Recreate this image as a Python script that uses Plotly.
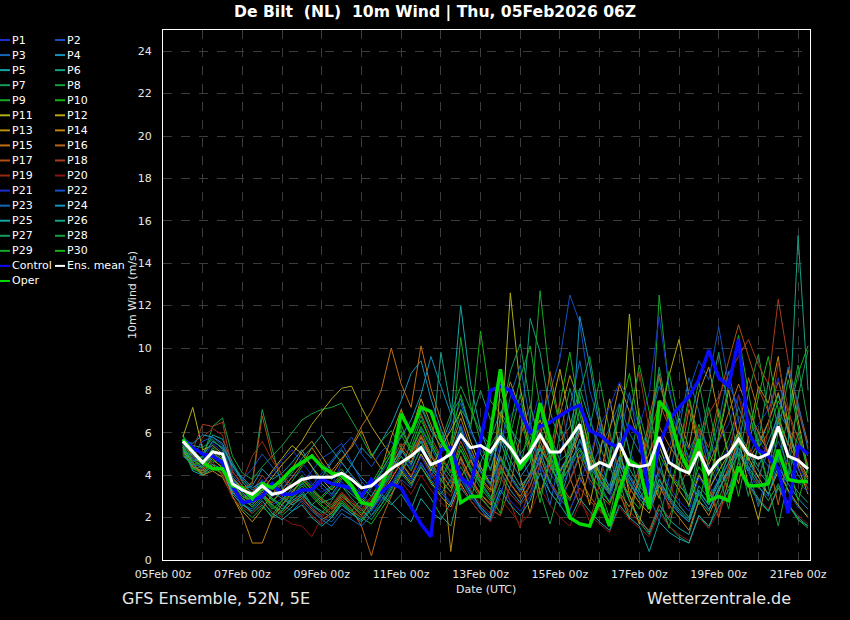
import pandas as pd
import plotly.graph_objects as go

# ---------------- data ----------------
times = pd.date_range("2026-02-05 12:00", periods=64, freq="6h")

p01 = [5.4,5.0,4.4,5.2,4.8,3.4,2.9,3.2, 3.8,3.0,3.4,3.9,4.2,3.6,3.2,3.5, 4.6,4.0,3.1,2.6,3.4,4.0,5.2,4.4, 5.8,4.1,3.6,4.2,6.4,5.1,4.3,3.8,
       5.5,6.8,7.4,6.2,8.0,5.6,4.3,5.0, 6.1,3.6,3.2,2.8,4.6,3.9,3.1,2.6, 4.4,3.5,2.8,2.3,3.9,3.2,4.5,5.3, 6.8,5.9,6.4,7.1,8.6,6.2,4.8,3.9]
p02 = [5.1,4.7,4.9,5.6,5.3,4.0,3.5,2.9, 3.1,2.6,2.9,3.3,3.6,4.2,4.8,5.1, 5.5,4.6,3.7,3.2,2.8,3.1,3.8,3.4, 4.5,3.9,5.1,6.3,7.4,6.0,5.2,4.7,
       6.1,5.4,4.2,4.8,6.6,7.9,9.5,12.5, 11.2,8.0,6.4,5.1,6.9,5.2,4.0,3.6, 5.4,4.2,3.6,2.9,4.1,3.0,3.8,4.6, 5.2,4.1,3.4,3.0,4.8,3.2,2.5,2.1]
p03 = [5.3,4.8,4.2,4.9,4.5,3.1,2.6,2.4, 2.9,3.5,3.0,2.7,3.2,2.5,2.0,1.8, 2.4,2.1,2.6,3.4,4.1,4.8,4.2,5.0, 6.2,5.3,4.4,3.6,4.8,3.3,2.4,1.8,
       3.1,4.4,5.0,3.9,4.6,3.2,2.6,3.8, 5.0,4.1,5.3,6.2,7.4,6.0,5.1,6.3, 8.2,7.1,6.0,5.2,6.1,4.4,3.6,4.2, 5.5,4.8,6.0,5.1,7.0,6.2,5.5,4.9]
p04 = [5.0,4.5,4.1,4.6,4.8,3.9,3.3,3.5, 4.3,3.8,4.1,4.6,5.2,4.4,3.6,3.1, 3.8,4.5,5.3,4.8,5.6,6.4,7.5,8.8, 9.4,7.6,6.2,5.0,6.3,4.8,3.6,2.9,
       4.2,3.3,2.7,3.5,4.9,3.6,2.8,4.4, 11.5,9.2,6.3,4.5,5.8,4.0,3.3,2.4, 3.6,2.8,2.2,1.8,3.2,2.6,3.8,4.9, 5.8,4.6,3.9,5.2,6.5,5.1,4.0,3.4]
p05 = [5.6,5.3,5.0,5.9,5.7,4.6,3.8,3.3, 3.6,2.9,2.4,2.8,3.1,2.6,2.3,2.0, 2.6,2.2,1.9,2.5,3.3,4.2,5.1,6.0, 7.2,6.1,5.4,6.6,12.0,8.3,6.1,4.9,
       5.6,4.3,3.5,4.0,5.2,4.6,3.9,4.7, 5.3,4.4,3.7,3.1,4.3,2.8,2.0,1.3, 2.6,1.9,1.5,1.2,2.8,2.3,3.4,4.1, 5.0,4.2,5.3,6.5,7.8,6.0,4.6,3.6]
p06 = [5.2,4.6,4.3,5.0,4.6,3.2,2.7,2.2, 2.6,2.0,2.3,3.0,3.6,3.2,2.7,2.9, 3.5,3.1,2.7,2.3,3.0,2.6,3.1,2.4, 3.6,2.9,2.1,1.6,3.4,2.8,4.6,5.7,
       7.0,6.2,5.5,11.4,9.8,7.0,5.6,6.3, 8.1,6.6,5.4,4.2,5.6,4.3,3.5,2.9, 4.3,3.3,2.6,2.0,3.5,2.9,3.7,5.0, 6.0,5.2,4.4,5.6,6.8,5.4,15.3,8.0]
p07 = [5.5,4.4,4.0,4.3,4.1,3.6,3.2,3.7, 7.1,5.2,3.4,2.9,3.3,2.6,3.0,3.5, 4.1,3.3,2.8,2.1,2.6,3.4,4.2,5.6, 6.8,5.5,4.6,5.3,7.1,6.4,8.0,6.6,
       7.6,6.3,5.0,5.7,7.2,5.9,4.7,5.1, 6.4,4.8,3.6,2.7,3.9,2.8,1.8,1.2, 2.4,1.6,1.1,0.8,2.1,1.5,2.9,4.0, 5.1,4.3,3.5,2.8,3.6,2.6,1.9,1.6]
p08 = [5.9,5.0,4.8,6.3,6.7,4.9,4.1,3.8, 4.4,4.9,5.4,6.0,6.6,6.9,7.1,7.2, 7.4,6.6,5.8,4.9,5.6,6.1,5.3,6.0, 7.3,6.2,5.6,6.9,8.2,7.1,6.0,5.4,
       6.2,5.1,4.2,5.0,6.3,4.6,3.4,2.8, 4.0,6.2,8.5,6.1,3.8,2.0,3.9,6.3, 8.6,6.4,4.2,2.5,4.8,7.2,5.0,3.0, 5.5,7.9,9.7,7.0,4.6,6.8,9.2,6.5]
p09 = [5.7,4.9,4.5,5.3,4.9,3.7,3.0,2.7, 3.4,2.8,3.2,3.7,4.4,5.0,4.3,3.8, 4.3,3.6,3.0,2.5,3.2,4.0,6.4,5.1, 5.6,4.3,3.7,4.9,10.5,7.3,5.6,4.2,
       6.0,5.2,4.3,6.6,12.7,8.4,6.3,5.2, 7.1,5.3,4.0,3.2,4.9,3.7,2.9,3.6, 12.5,8.0,6.1,4.8,6.4,5.0,4.3,3.4, 4.6,3.5,2.8,2.3,3.5,2.7,1.9,1.5]
p10 = [5.4,4.3,4.1,4.7,4.4,3.3,2.9,2.5, 3.0,2.4,2.8,3.2,3.7,3.1,2.6,2.2, 2.8,2.3,2.0,1.7,2.4,3.1,4.0,5.2, 6.1,5.0,4.2,5.6,7.8,6.2,10.8,7.5,
       6.9,5.8,4.5,5.0,6.0,4.9,3.8,4.3, 5.2,4.1,3.4,2.7,3.8,3.0,2.4,3.3, 5.0,4.1,3.5,3.0,4.4,3.7,4.6,5.7, 7.2,6.1,5.3,6.0,7.5,6.6,8.8,10.1]
p11 = [5.8,7.2,5.2,5.4,5.0,3.8,3.4,3.0, 3.5,4.2,4.8,5.4,5.0,4.4,3.8,3.3, 3.9,3.4,2.9,2.4,3.1,3.8,4.6,3.9, 5.0,4.2,5.3,6.1,7.0,5.6,4.4,3.6,
       5.2,12.6,8.1,5.9,6.6,5.4,4.2,5.0, 6.2,4.9,4.1,3.3,4.5,11.6,6.5,4.2, 5.4,4.1,3.3,2.6,4.0,3.3,4.2,5.0, 6.1,4.8,3.9,3.1,4.2,3.3,2.6,2.0]
p12 = [5.3,4.8,4.6,5.1,4.7,3.5,3.1,2.8, 3.3,3.9,4.5,5.0,5.6,6.4,7.0,7.6, 8.1,8.2,7.2,6.3,5.6,4.9,4.2,3.6, 4.4,3.7,3.0,2.5,3.6,2.8,2.2,1.9,
       8.3,6.0,3.9,2.2,4.5,6.9,9.0,6.6, 4.4,2.6,4.9,7.6,5.3,3.1,1.7,3.9, 6.4,8.7,10.4,7.7,5.1,3.3,5.8,8.0, 5.7,3.5,1.9,4.2,6.7,9.0,6.6,4.3]
p13 = [5.0,4.4,4.2,4.8,4.3,3.0,2.3,1.8, 2.4,3.1,3.7,4.3,5.1,5.6,4.9,4.2, 4.8,5.3,6.1,5.0,4.3,5.8,7.1,6.0, 7.6,6.4,5.2,0.4,3.9,4.7,3.9,3.3,
       6.8,8.4,7.1,5.2,3.1,4.6,6.9,8.7, 7.4,5.0,3.8,6.1,8.3,7.0,5.6,4.1, 2.9,4.8,6.7,5.3,7.9,9.1,6.8,4.9, 3.6,5.8,8.2,7.4,9.6,6.3,4.4,3.1]
p14 = [5.1,4.6,4.0,4.2,3.9,3.0,2.1,0.8, 0.8,2.0,2.6,3.2,3.8,3.3,2.8,2.4, 3.0,2.6,2.1,2.8,3.6,4.4,5.3,4.6, 5.8,4.9,4.1,3.4,4.8,3.9,3.1,2.6,
       4.4,3.6,3.0,3.9,5.3,4.4,3.7,4.8, 6.0,4.7,3.8,3.1,4.6,3.4,2.7,2.2, 3.5,2.6,2.0,1.4,2.8,2.1,3.2,4.4, 5.6,4.7,5.5,6.5,7.9,6.1,4.8,3.9]
p15 = [5.5,4.9,4.3,4.5,4.0,3.2,2.9,2.6, 3.1,2.7,3.3,3.9,4.5,5.3,4.6,4.0, 4.7,5.4,6.3,7.0,8.0,10.0,8.3,7.2, 10.1,8.1,6.6,5.2,6.7,5.3,4.2,3.5,
       4.8,3.9,3.2,4.1,5.6,4.5,3.6,2.9, 3.9,3.0,2.4,1.9,3.2,2.5,3.8,5.1, 6.3,5.4,4.7,4.0,5.4,4.5,5.6,6.9, 8.3,7.1,6.0,5.1,6.6,5.5,4.6,3.8]
p16 = [5.2,4.4,4.1,4.4,4.2,3.4,3.0,2.8, 3.2,2.6,2.2,2.7,3.0,2.4,1.9,2.2, 2.9,2.4,1.6,0.2,1.9,3.0,4.1,5.0, 5.9,4.7,3.8,3.2,4.9,3.8,3.0,2.4,
       2.1,3.5,5.8,7.3,5.6,8.9,6.4,3.9, 2.6,4.3,6.8,5.0,3.2,1.9,4.1,6.7, 8.8,6.2,4.4,7.1,5.3,3.4,2.0,3.8, 6.1,8.6,7.0,4.8,2.6,4.9,7.3,5.5]
p17 = [5.4,5.0,4.5,4.9,4.6,3.9,3.4,3.6, 6.8,4.9,4.0,3.5,3.9,3.3,2.9,2.6, 3.2,2.7,2.3,2.8,3.5,4.3,5.0,6.2, 6.9,5.8,4.9,4.2,5.6,4.6,3.8,3.2,
       4.5,3.6,2.9,3.5,4.8,3.7,3.0,3.7, 4.9,3.8,3.1,2.6,3.8,3.1,4.3,5.8, 7.4,6.3,5.4,4.6,6.2,5.3,7.5,9.4, 11.1,9.6,8.1,7.0,8.4,7.0,5.7,4.5]
p18 = [5.6,5.2,6.4,6.3,6.5,4.2,3.5,3.2, 4.0,3.4,3.0,2.6,2.9,2.4,2.1,2.5, 3.1,2.7,2.4,3.0,3.8,4.6,5.5,4.8, 5.9,5.0,4.3,3.7,4.6,3.8,3.1,2.7,
       3.9,3.1,2.6,3.2,4.5,3.6,2.9,2.4, 3.4,2.8,2.3,1.9,3.0,2.3,1.8,1.4, 2.6,2.0,3.3,4.5,5.8,6.9,7.7,8.8, 9.6,10.4,9.2,8.3,12.3,9.4,7.1,5.3]
p19 = [5.3,4.7,5.8,6.2,5.9,4.1,3.7,4.9, 5.6,4.7,4.0,3.2,2.7,2.1,1.7,2.3, 2.9,2.4,2.0,2.6,3.3,3.9,4.6,4.0, 4.9,4.1,3.5,3.0,4.1,3.3,2.6,2.2,
       4.4,2.7,1.5,3.9,6.2,4.1,7.6,5.2, 3.0,1.8,3.6,5.9,4.2,6.8,8.9,6.1, 4.0,2.4,5.1,7.4,6.0,3.7,2.1,4.5, 7.8,5.6,3.4,6.3,9.3,7.2,5.0,3.3]
p20 = [5.0,4.6,4.3,4.6,4.1,2.9,2.5,2.2, 2.7,2.3,2.0,1.7,1.6,1.1,2.0,2.5, 3.2,2.8,2.4,2.9,3.6,4.2,3.7,3.1, 4.0,3.3,2.7,2.3,3.5,2.8,2.2,1.8,
       2.9,2.3,1.7,2.2,3.4,2.6,2.0,1.6, 2.7,2.1,1.7,1.3,2.5,1.9,1.5,1.1, 2.2,1.6,1.2,0.9,2.0,1.5,2.3,3.1, 4.3,3.5,2.9,2.4,3.4,2.6,2.1,1.7]
p21 = [5.5,4.8,4.7,5.5,5.1,3.8,3.1,2.9, 3.6,4.1,4.7,5.2,4.6,4.0,3.4,3.0, 3.7,3.2,2.8,2.3,3.0,3.6,4.4,3.8, 4.9,4.0,3.3,2.7,3.9,3.1,2.5,2.1,
       3.4,2.8,2.3,3.0,4.4,3.6,2.9,2.3, 3.6,4.9,6.3,7.2,8.4,7.6,6.3,7.9, 11.5,8.2,6.0,4.7,5.9,4.9,5.6,6.4, 7.8,6.6,5.7,4.9,6.2,5.1,4.3,3.6]
p22 = [5.2,4.9,5.6,5.8,5.4,4.3,3.8,4.3, 5.0,4.4,3.8,3.4,3.9,3.5,4.1,4.7, 5.3,5.8,5.0,4.4,5.1,5.6,4.9,4.3, 5.2,4.4,3.8,4.6,5.8,4.9,4.1,3.5,
       4.7,3.9,3.2,3.8,5.0,4.1,3.4,4.2, 5.6,4.5,3.7,3.1,4.6,3.7,3.0,2.6, 4.1,5.3,6.8,8.0,9.4,8.5,11.0,8.3, 7.2,6.0,5.1,4.4,5.6,4.5,3.7,3.2]
p23 = [4.9,4.5,4.4,4.9,4.5,3.3,2.8,2.6, 3.3,2.9,2.6,2.3,2.8,2.3,1.9,1.6, 2.2,1.9,1.6,2.1,2.8,3.5,4.3,3.7, 4.6,3.8,3.2,2.6,3.8,3.0,2.4,1.9,
       5.3,7.7,9.2,6.5,4.3,2.6,4.8,7.2, 9.4,6.8,4.9,3.3,5.7,7.9,5.4,3.1, 1.8,3.9,6.2,8.6,7.0,4.7,6.5,8.9, 6.6,4.3,2.5,4.2,6.8,9.1,7.4,5.2]
p24 = [5.6,5.5,5.9,5.8,5.5,4.4,3.9,3.4, 3.7,3.2,2.9,2.6,2.9,3.4,3.9,4.6, 5.2,4.5,3.9,3.4,4.2,5.0,5.8,6.6, 7.8,9.6,8.2,6.9,7.6,6.2,5.0,4.3,
       5.8,4.7,3.9,4.6,6.0,4.9,4.1,5.0, 6.3,5.1,4.2,3.5,4.9,3.9,3.1,2.5, 3.8,2.9,2.3,1.8,3.1,2.4,3.3,4.2, 5.3,4.4,3.7,3.1,4.4,3.6,2.9,2.4]
p25 = [5.3,4.2,4.0,4.5,4.3,3.1,2.6,2.3, 2.8,2.2,1.9,2.3,2.6,2.0,1.6,2.0, 2.7,2.2,1.8,2.4,3.1,2.7,2.2,1.8, 2.9,2.3,1.9,2.7,4.0,3.2,2.5,2.0,
       3.3,2.6,2.1,2.8,4.1,3.2,2.6,1.9, 2.9,2.3,1.8,1.4,2.6,2.0,1.6,0.4, 1.8,1.3,1.0,0.8,2.1,1.6,2.5,3.3, 4.4,3.6,2.9,2.3,3.4,2.6,2.0,1.6]
p26 = [5.4,4.6,4.9,5.6,5.3,4.5,3.7,3.1, 3.5,3.0,3.6,4.1,4.8,5.3,5.9,5.2, 4.6,4.0,3.5,3.0,3.7,4.4,5.2,4.5, 5.6,4.8,9.8,7.2,6.1,5.0,4.2,3.6,
       4.9,4.0,3.3,4.1,5.4,4.4,3.6,4.4, 5.7,4.6,3.8,3.2,4.5,3.6,2.9,2.4, 3.8,3.0,2.4,1.9,3.3,2.6,3.6,4.6, 5.9,5.0,4.2,3.6,4.9,3.9,3.2,2.7]
p27 = [5.8,5.4,5.3,5.7,5.2,3.9,3.2,2.7, 3.1,2.5,2.1,2.5,3.1,2.6,2.2,2.8, 3.5,2.9,2.4,1.9,2.6,3.3,4.1,3.5, 4.4,3.6,3.1,3.8,5.2,4.3,3.6,4.8,
       6.5,8.9,10.2,7.4,5.3,3.6,5.9,8.1, 6.4,4.2,2.7,4.9,7.3,5.1,3.2,5.8, 9.1,6.6,4.3,2.8,5.4,7.6,9.8,7.1, 4.9,3.0,5.6,8.4,6.2,4.0,7.7,9.9]
p28 = [5.1,4.3,4.4,5.0,4.7,3.5,2.4,2.0, 2.5,2.1,2.8,3.4,4.0,3.4,2.9,2.5, 3.1,2.6,2.2,2.7,3.4,4.1,4.9,4.2, 5.3,4.5,3.8,3.2,4.4,3.6,2.9,2.4,
       3.6,5.9,7.8,5.4,3.2,1.7,3.4,5.6, 7.9,9.6,6.8,4.5,2.9,4.6,6.9,5.2, 3.1,1.5,3.8,6.3,8.4,6.0,4.1,2.4, 4.7,7.1,5.3,3.4,1.6,3.8,6.0,4.2]
p29 = [5.6,4.7,4.4,4.9,4.6,3.4,2.9,2.5, 3.0,2.6,2.3,2.9,3.5,3.0,2.5,2.1, 2.7,2.3,2.9,3.5,4.2,5.0,5.9,5.1, 6.3,5.4,4.6,3.9,5.2,4.2,3.4,2.8,
       4.1,6.3,8.6,10.1,7.2,4.9,3.1,5.4, 7.8,5.5,3.4,2.0,4.3,6.6,9.2,7.0, 4.8,2.9,5.2,7.7,5.6,3.5,5.9,8.3, 10.6,7.9,5.4,3.6,6.1,8.5,6.3,4.1]
p30 = [5.3,4.5,4.6,5.2,4.8,3.6,3.0,2.8, 3.3,2.9,2.6,3.1,3.8,3.3,2.9,3.4, 4.0,3.5,3.1,3.6,4.4,5.2,6.1,5.3, 6.6,5.6,4.8,4.1,5.4,4.4,3.7,3.0,
       2.2,4.5,6.9,4.8,2.7,5.0,7.4,9.8, 6.9,4.6,2.5,4.7,6.9,8.8,6.2,3.9, 6.4,8.9,6.5,4.2,2.6,4.8,7.1,5.0, 3.0,5.3,7.7,9.6,7.0,4.6,2.8,4.4]

control = [5.7,5.3,5.0,4.9,4.6,3.5,2.7,2.8, 3.0,3.6,3.1,3.1,3.3,3.3,3.8,3.6, 3.5,3.4,3.0,3.8,3.2,3.6,3.4,2.5, 1.7,1.1,5.2,5.3,3.9,3.5,5.6,8.0,
           8.2,8.0,7.0,6.0,6.3,6.5,6.8,7.1, 7.3,6.1,5.9,5.5,5.3,6.3,5.9,3.1, 5.4,6.6,7.2,7.7,8.5,9.9,8.6,8.2, 10.4,6.0,5.2,4.9,4.3,2.2,5.4,5.0]
oper = [5.7,5.1,4.6,4.3,4.3,3.5,3.4,2.9, 3.6,3.4,3.8,4.3,4.6,4.9,4.4,4.1, 4.0,3.5,2.7,2.6,3.5,4.6,6.9,6.0, 7.2,7.0,5.7,4.9,2.7,3.0,3.0,6.0,
        9.0,5.7,4.3,5.0,7.4,5.7,3.8,2.0, 1.7,1.6,2.8,1.6,3.3,4.7,4.4,2.4, 7.5,6.9,5.2,4.2,5.7,2.8,3.0,2.8, 4.4,3.5,3.5,3.6,5.2,3.8,3.7,3.7]
ens_mean = [5.6,5.1,4.6,5.1,5.0,3.6,3.3,3.1, 3.5,3.1,3.2,3.5,3.8,3.9,3.9,3.9, 4.1,3.8,3.4,3.5,3.9,4.3,4.6,4.9, 5.3,4.5,4.7,5.0,5.9,5.3,5.4,5.1,
            5.8,5.3,4.6,5.1,5.9,5.1,5.1,5.7, 6.4,4.3,4.6,4.4,5.5,4.5,4.4,4.5, 5.8,4.6,4.3,4.1,5.1,4.1,4.7,5.0, 5.7,5.0,4.8,5.0,6.3,4.9,4.7,4.3]

member_names = [f"P{i}" for i in range(1, 31)]
members = [p01, p02, p03, p04, p05, p06, p07, p08, p09, p10,
           p11, p12, p13, p14, p15, p16, p17, p18, p19, p20,
           p21, p22, p23, p24, p25, p26, p27, p28, p29, p30]

cool = ["#1a2fd0", "#1650c4", "#1466b8", "#1494bc", "#14a6a6",
        "#14a084", "#149c5e", "#14a03c", "#14aa28", "#14b414"]
warm = ["#b0b014", "#b8a414", "#b88e14", "#c08214", "#c07014",
        "#b86414", "#b05014", "#a83c1e", "#982a14", "#8c1414"]
member_colors = cool + warm + cool

x_ticks = pd.date_range("2026-02-05", "2026-02-21", freq="1D")
x_ticktext = [d.strftime("%d%b %Hz") if i % 2 == 0 else "" for i, d in enumerate(x_ticks)]
y_ticks = list(range(0, 25, 2))

# ---------------- figure ----------------
W, H = 850, 620
L, R, T, B = 163, 40, 30, 60
pw, ph = W - L - R, H - T - B

def px(x):
    return (x - L) / pw

def py(y):
    return (H - B - y) / ph

fig = go.Figure()
for name, vals, col in zip(member_names, members, member_colors):
    fig.add_trace(go.Scatter(x=times, y=vals, mode="lines", name=name,
                             line=dict(color=col, width=1), showlegend=False))
fig.add_trace(go.Scatter(x=times, y=control, mode="lines", name="Control",
                         line=dict(color="#0a0aff", width=3.5), showlegend=False))
fig.add_trace(go.Scatter(x=times, y=oper, mode="lines", name="Oper",
                         line=dict(color="#00dc00", width=3.5), showlegend=False))
fig.add_trace(go.Scatter(x=times, y=ens_mean, mode="lines", name="Ens. mean",
                         line=dict(color="#ffffff", width=3), showlegend=False))

font = "DejaVu Sans"
fig.update_layout(
    width=W, height=H,
    margin=dict(l=L, r=R, t=T, b=B),
    paper_bgcolor="#000000", plot_bgcolor="#000000",
    font=dict(family=font, size=11, color="#e6e6e6"),
    showlegend=False,
    xaxis=dict(type="date", range=["2026-02-05 00:00", "2026-02-21 07:12"],
               tickmode="array", tickvals=x_ticks, ticktext=x_ticktext,
               showgrid=True, gridcolor="#3c3c3c", griddash="dash", gridwidth=1,
               showline=True, linecolor="#ffffff", linewidth=1, mirror=True,
               ticks="outside", ticklen=4, tickcolor="rgba(0,0,0,0)",
               tickfont=dict(size=11, color="#e6e6e6"), zeroline=False),
    yaxis=dict(range=[0, 25], tickmode="array", tickvals=y_ticks,
               showgrid=True, gridcolor="#3c3c3c", griddash="dash", gridwidth=1,
               showline=True, linecolor="#ffffff", linewidth=1, mirror=True,
               ticks="outside", ticklen=8, tickcolor="rgba(0,0,0,0)",
               tickfont=dict(size=11, color="#e6e6e6"), zeroline=False),
)

ann = []
ann.append(dict(text="<b>De Bilt  (NL)  10m Wind | Thu, 05Feb2026 06Z</b>", x=px(435), y=py(12),
                xref="paper", yref="paper", xanchor="center", yanchor="middle", showarrow=False,
                font=dict(family=font, size=15.6, color="#ffffff")))
ann.append(dict(text="Date (UTC)", x=px(486), y=py(589), xref="paper", yref="paper",
                xanchor="center", yanchor="middle", showarrow=False,
                font=dict(family=font, size=11, color="#e6e6e6")))
ann.append(dict(text="10m Wind (m/s)", x=px(132), y=py(295), xref="paper", yref="paper",
                xanchor="center", yanchor="middle", textangle=-90, showarrow=False,
                font=dict(family=font, size=11, color="#e6e6e6")))
ann.append(dict(text="GFS Ensemble, 52N, 5E", x=px(120), y=py(598), xref="paper", yref="paper",
                xanchor="left", yanchor="middle", showarrow=False,
                font=dict(family=font, size=16, color="#e6e6e6")))
ann.append(dict(text="Wetterzentrale.de", x=px(793), y=py(598), xref="paper", yref="paper",
                xanchor="right", yanchor="middle", showarrow=False,
                font=dict(family=font, size=16, color="#e6e6e6")))

# manual two-column legend
legend_items = []
for i in range(0, 30, 2):
    legend_items.append((member_names[i], member_colors[i], member_names[i + 1], member_colors[i + 1]))
legend_items.append(("Control", "#0a0aff", "Ens. mean", "#ffffff"))
legend_items.append(("Oper", "#00dc00", None, None))

shapes = []
for row, (n1, c1, n2, c2) in enumerate(legend_items):
    yc = 40 + 15.06 * row
    for (n, c, x0) in ((n1, c1, 0), (n2, c2, 55)):
        if n is None:
            continue
        shapes.append(dict(type="line", xref="paper", yref="paper",
                           x0=px(x0), x1=px(x0 + 10), y0=py(yc), y1=py(yc),
                           line=dict(color=c, width=2)))
        ann.append(dict(text=n, x=px(x0 + 10), y=py(yc), xref="paper", yref="paper",
                        xanchor="left", yanchor="middle", showarrow=False,
                        font=dict(family=font, size=11, color="#ffffff")))

fig.update_layout(annotations=ann, shapes=shapes)
fig.write_html("out.html", config={"displayModeBar": False},
               post_script="document.body.style.margin='0';document.body.style.overflow='hidden';")
